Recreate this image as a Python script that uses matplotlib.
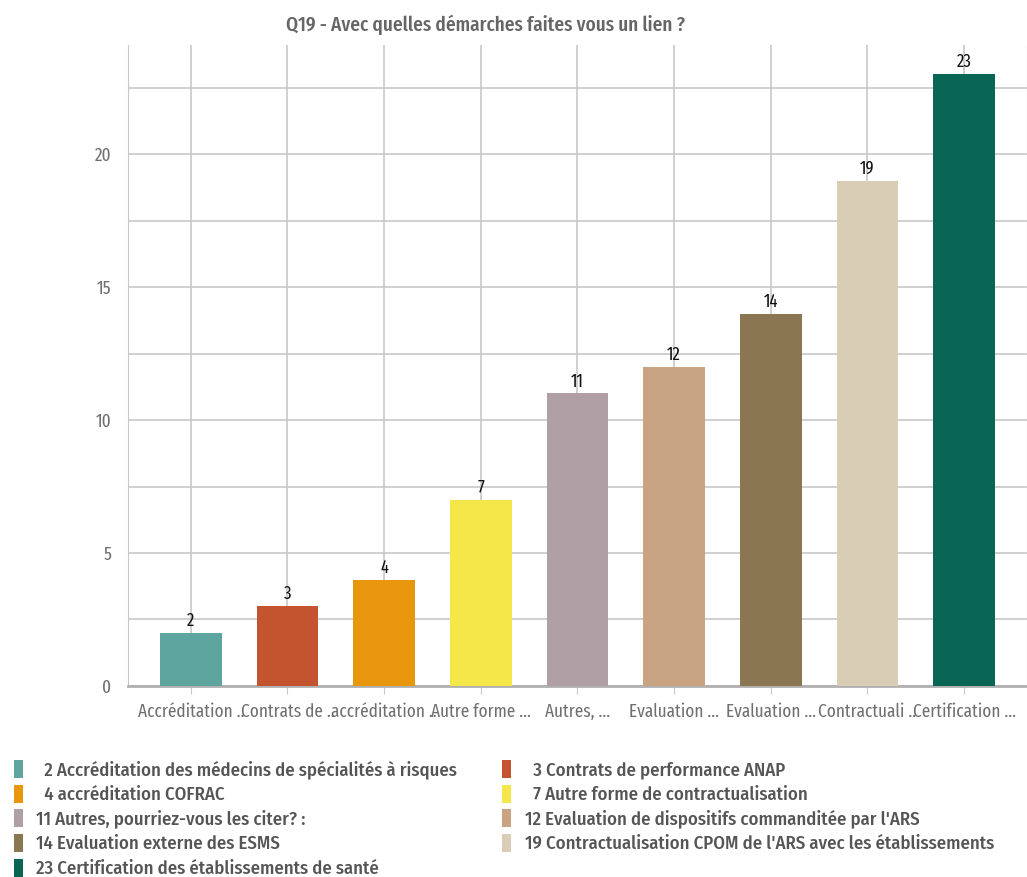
import matplotlib.pyplot as plt
from matplotlib.ticker import MultipleLocator

plt.rcParams['font.family'] = ['Fira Sans Extra Condensed', 'DejaVu Sans']

short_labels = ["Accréditation ..", "Contrats de ..", "accréditation ..", "Autre forme ...",
                "Autres, ...", "Evaluation ...", "Evaluation ...", "Contractuali ..", "Certification ..."]
long_labels = ["Accréditation des médecins de spécialités à risques",
               "Contrats de performance ANAP",
               "accréditation COFRAC",
               "Autre forme de contractualisation",
               "Autres, pourriez-vous les citer? :",
               "Evaluation de dispositifs commanditée par l'ARS",
               "Evaluation externe des ESMS",
               "Contractualisation CPOM de l'ARS avec les établissements",
               "Certification des établissements de santé"]
counts = [2, 3, 4, 7, 11, 12, 14, 19, 23]
colors = ["#5ea5a0", "#c4532f", "#e8960c", "#f5e64a", "#b0a0a6",
          "#c9a482", "#8a7650", "#d9cdb5", "#0a6654"]

fig = plt.figure(figsize=(10.27, 8.77), dpi=100)
ax = fig.add_axes([0.1246, 0.2178, 0.8754, 0.7309])

x = range(len(counts))
bars = ax.bar(x, counts, width=0.64, color=colors, zorder=3)
for xi, v in zip(x, counts):
    ax.text(xi, v + 0.12, str(v), ha="center", va="bottom", fontsize=13, color="#111111", zorder=4)

ax.set_xlim(-0.65, 8.65)
ax.set_ylim(0, 24.1)
ax.yaxis.set_major_locator(MultipleLocator(5))
ax.yaxis.set_minor_locator(MultipleLocator(2.5))
ax.grid(True, which="both", axis="y", color="#c8c8c8", lw=1.2, zorder=0)
ax.grid(True, axis="x", color="#c8c8c8", lw=1.2, zorder=0)
ax.set_xticks(list(x))
ax.set_xticklabels(short_labels, fontsize=13.5, color="#707070")
ax.tick_params(axis="y", labelsize=13.5, labelcolor="#707070", length=0, pad=12, which="both")
ax.tick_params(axis="x", color="#c8c8c8", length=6, pad=6)
ax.spines["top"].set_visible(False)
ax.spines["right"].set_color("#c8c8c8")
ax.spines["left"].set_color("#c8c8c8")
ax.spines["bottom"].set_color("#b0b0b0")
ax.spines["bottom"].set_linewidth(2)

fig.text(0.473, 0.972, "Q19 - Avec quelles démarches faites vous un lien ?", ha="center", va="center",
         fontsize=15, fontweight="medium", color="#666666")

# legend: row-major order in two columns
names = [f"{'  ' if c < 10 else ''}{c} {n}" for c, n in zip(counts, long_labels)]
order = [0, 2, 4, 6, 8, 1, 3, 5, 7]
leg = fig.legend([bars[i] for i in order], [names[i] for i in order], ncol=2,
                 loc="upper left", bbox_to_anchor=(0.006, 0.142), frameon=False,
                 prop={"family": "Fira Sans Condensed", "size": 13.5, "weight": "medium"},
                 handlelength=0.5, handleheight=1.1, handletextpad=0.7,
                 columnspacing=2.4, labelspacing=0.3, borderaxespad=0)
for t in leg.get_texts():
    t.set_color("#555555")

fig.savefig("out.png", dpi=100)
